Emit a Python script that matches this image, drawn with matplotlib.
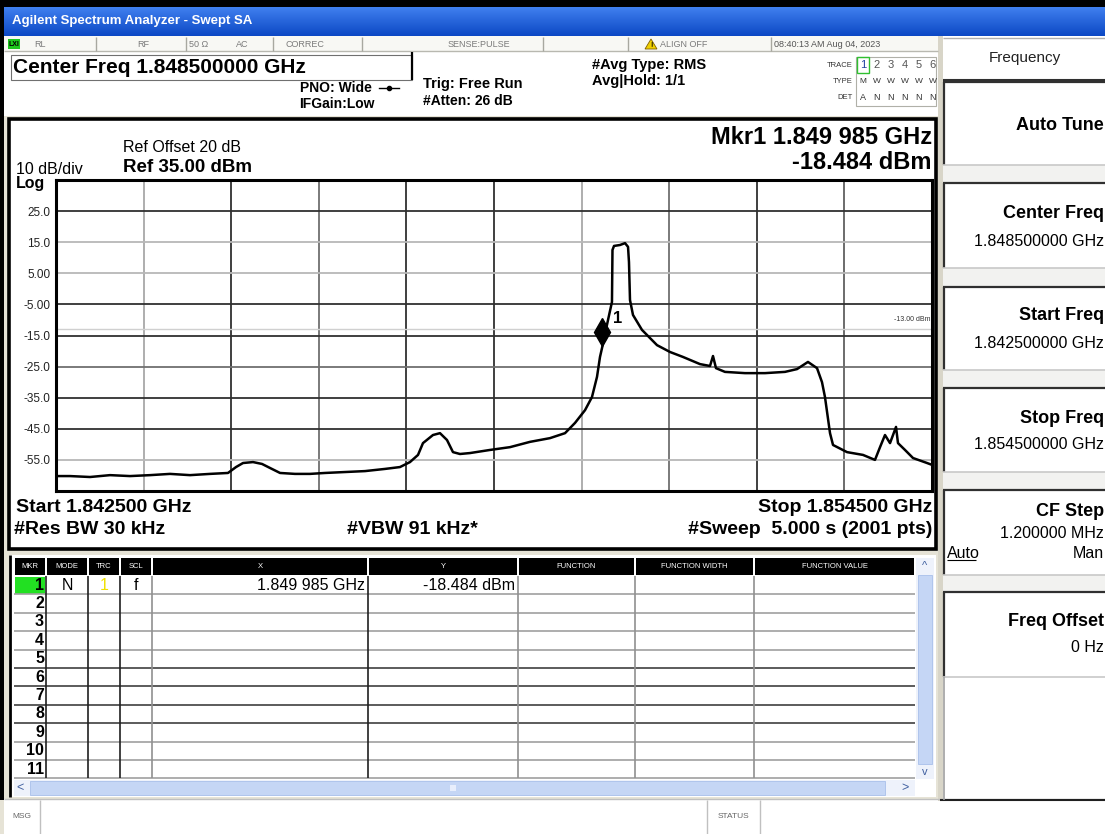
import matplotlib
matplotlib.use("Agg")
import matplotlib.pyplot as plt
from matplotlib.patches import Rectangle, Polygon
from matplotlib.transforms import offset_copy

plt.rcParams['font.family'] = ['Liberation Sans', 'DejaVu Sans']

# sweep setup
start_ghz = 1.8425
stop_ghz = 1.8545
ref_dbm = 35.0
bottom_dbm = -65.0
display_line_dbm = -13.0

# trace 1
freq_ghz = [1.842500, 1.842692, 1.842966, 1.843240, 1.843514, 1.843788, 1.844062, 1.844336,
            1.844610, 1.844856, 1.844966, 1.845062, 1.845199, 1.845322, 1.845432, 1.845569,
            1.845774, 1.845979, 1.846185, 1.846459, 1.846733, 1.847007, 1.847212, 1.847349,
            1.847459, 1.847527, 1.847664, 1.847760, 1.847856, 1.847938, 1.848034, 1.848171,
            1.848445, 1.848719, 1.848993, 1.849267, 1.849473, 1.849610, 1.849747, 1.849842,
            1.849911, 1.849952, 1.849985, 1.850062, 1.850116, 1.850123, 1.850144, 1.850226,
            1.850295, 1.850336, 1.850349, 1.850363, 1.850404, 1.850527, 1.850733, 1.850911,
            1.851089, 1.851322, 1.851459, 1.851500, 1.851541, 1.851664, 1.851938, 1.852212,
            1.852486, 1.852651, 1.852801, 1.852925, 1.852993, 1.853034, 1.853103, 1.853144,
            1.853336, 1.853555, 1.853719, 1.853788, 1.853856, 1.853925, 1.854007, 1.854034,
            1.854130, 1.854240, 1.854432, 1.854500]
level_dbm = [-60.2, -60.2, -60.5, -59.9, -60.2, -59.9, -59.5, -59.9,
             -59.5, -59.2, -57.3, -56.0, -55.7, -56.3, -57.6, -59.2,
             -59.5, -59.5, -59.2, -58.9, -58.6, -57.9, -57.3, -55.7,
             -53.4, -49.6, -47.0, -46.4, -48.6, -52.5, -53.1, -52.8,
             -51.8, -50.9, -49.2, -48.0, -46.4, -43.1, -39.0, -34.8,
             -28.3, -21.9, -18.484, -10.0, -4.2, 12.5, 13.8, 14.1,
             14.7, 13.5, 8.6, -3.6, -8.4, -13.2, -18.1, -20.3,
             -21.9, -24.2, -24.8, -21.6, -25.5, -26.7, -27.1, -27.1,
             -26.7, -25.8, -23.5, -25.5, -30.0, -34.8, -46.4, -50.2,
             -52.5, -53.4, -55.0, -50.9, -47.0, -49.6, -44.4, -49.6,
             -51.8, -54.4, -56.0, -56.6]

marker_freq_ghz = 1.849985
marker_level_dbm = -18.484

y_ticks = [25, 15, 5, -5, -15, -25, -35, -45, -55]
y_labels = ["25.0", "15.0", "5.00", "-5.00", "-15.0", "-25.0", "-35.0", "-45.0", "-55.0"]

table_cols = ["MKR", "MODE", "TRC", "SCL", "X", "Y", "FUNCTION", "FUNCTION WIDTH", "FUNCTION VALUE"]
table_mkrs = [1, 2, 3, 4, 5, 6, 7, 8, 9, 10, 11]
mkr1_row = ["N", "1", "f", "1.849 985 GHz", "-18.484 dBm"]

status_items = ["RL", "RF", "50 Ω", "AC", "CORREC", "SENSE:PULSE", "ALIGN OFF", "08:40:13 AM Aug 04, 2023"]
softkeys = [("Auto Tune", ""), ("Center Freq", "1.848500000 GHz"), ("Start Freq", "1.842500000 GHz"),
            ("Stop Freq", "1.854500000 GHz"), ("CF Step", "1.200000 MHz"), ("Freq Offset", "0 Hz")]

W, H = 1105, 834
fig = plt.figure(figsize=(W / 100, H / 100), dpi=100)
bg = fig.add_axes([0, 0, 1, 1])
bg.set_xlim(0, W)
bg.set_ylim(H, 0)
bg.axis('off')


def box(x0, y0, x1, y1, fc='none', ec='none', lw=0, z=1):
    bg.add_patch(Rectangle((x0, y0), x1 - x0, y1 - y0, facecolor=fc, edgecolor=ec, linewidth=lw, zorder=z))


def hl(y, x0, x1, c, lw=1.0, z=2):
    bg.plot([x0, x1], [y, y], color=c, lw=lw, solid_capstyle='butt', zorder=z)


def vl(x, y0, y1, c, lw=1.0, z=2):
    bg.plot([x, x], [y0, y1], color=c, lw=lw, solid_capstyle='butt', zorder=z)


def txt(x, y, s, size, weight='normal', ha='left', color='black', z=3, **kw):
    bg.text(x, y, s, fontsize=size, fontweight=weight, ha=ha, va='center', color=color, zorder=z, **kw)


# window frame
box(0, 0, W, H, fc='#e6e3d6', z=0)
box(0, 0, W, 7, fc='black')
box(0, 0, 4, 800, fc='black')

# title bar
top = (0x3f / 255, 0x7f / 255, 0xee / 255)
bot = (0x0c / 255, 0x48 / 255, 0xc4 / 255)
n = 29
for i in range(n):
    f = i / (n - 1)
    c = tuple(top[k] + (bot[k] - top[k]) * f for k in range(3))
    box(4, 7 + i, W, 8 + i, fc=c)
txt(12, 21, "Agilent Spectrum Analyzer - Swept SA", 9.5, 'bold', color='white')

# status row
box(4, 36, 938, 51, fc='#f8f8f4')
hl(51, 4, 938, '#b8b8b0')
for x in [96, 186, 273, 362, 543, 628, 771]:
    vl(x, 37, 51, '#a8a8a0')
box(8, 39, 20, 49, fc='#1ec81e')
txt(14, 44.5, "LXI", 5, 'bold', ha='center')
status_x = [34, 137, 189, 236, 286, 448, 660, 774]
for s, x in zip(status_items, status_x):
    txt(x, 44.5, s, 6.5, color='#7a7a7a' if x < 770 else '#555555')
bg.add_patch(Polygon([[645, 49], [651, 39], [657, 49]], closed=True, facecolor='#f0d000', edgecolor='#806000', lw=0.6, zorder=3))
txt(651, 45.5, "!", 5, 'bold', ha='center')

# header
box(4, 51, 938, 116, fc='white')
box(11, 55, 412, 80, fc='white', ec='#707070', lw=0.8)
vl(412, 52, 80, 'black', 1.6)
txt(13, 67.5, "Center Freq 1.848500000 GHz", 15, 'bold')
txt(300, 88, "PNO: Wide", 10, 'bold')
bg.plot([379, 399], [88, 88], color='black', lw=1, zorder=3)
bg.plot([389], [88], marker='o', ms=3, color='black', zorder=3)
txt(299, 104, "IFGain:Low", 10, 'bold')
txt(423, 84, "Trig: Free Run", 10.5, 'bold')
txt(423, 101, "#Atten: 26 dB", 10, 'bold')
txt(592, 65, "#Avg Type: RMS", 10.5, 'bold')
txt(592, 81, "Avg|Hold: 1/1", 10.5, 'bold')
txt(853, 65, "TRACE", 5.5, ha='right', color='#333333')
txt(853, 81, "TYPE", 5.5, ha='right', color='#333333')
txt(853, 97, "DET", 5.5, ha='right', color='#333333')
box(856, 57, 936, 106, fc='white', ec='#b0b0a8', lw=0.8)
for i, d in enumerate("123456"):
    txt(863 + i * 14, 65, d, 8, color='#2040a0' if i == 0 else '#555555', ha='center')
box(857, 57, 869, 73, fc='none', ec='#30c030', lw=1)
for i, d in enumerate("MWWWWW"):
    txt(863 + i * 14, 81, d, 6, color='#333333', ha='center')
for i, d in enumerate("ANNNNN"):
    txt(863 + i * 14, 97, d, 6.5, color='#333333', ha='center')

# plot panel
box(9, 119, 936, 549, fc='white', ec='black', lw=2.6)
txt(123, 147, "Ref Offset 20 dB", 11.5)
txt(123, 167, "Ref 35.00 dBm", 13.5, 'bold')
txt(16, 169, "10 dB/div", 11.5)
txt(16, 183, "Log", 11.5, 'bold')
txt(932, 137, "Mkr1 1.849 985 GHz", 17, 'bold', ha='right')
txt(932, 162, "-18.484 dBm", 17, 'bold', ha='right')
txt(16, 507, "Start 1.842500 GHz", 14, 'bold')
txt(14, 530, "#Res BW 30 kHz", 14, 'bold')
txt(347, 530, "#VBW 91 kHz*", 14, 'bold')
txt(932, 507, "Stop 1.854500 GHz", 14, 'bold', ha='right')
txt(932, 530, "#Sweep  5.000 s (2001 pts)", 14, 'bold', ha='right')

# spectrum graticule
ax = fig.add_axes([56 / W, 1 - 491 / H, 876 / W, 311 / H])
ax.set_xlim(start_ghz, stop_ghz)
ax.set_ylim(bottom_dbm, ref_dbm)
ax.set_facecolor('white')
step = (stop_ghz - start_ghz) / 10
v_shades = ['#a8a8a8', '#303030', '#707070', '#303030', '#303030', '#a8a8a8', '#707070', '#303030', '#606060']
for k, c in enumerate(v_shades):
    ax.axvline(start_ghz + (k + 1) * step, color=c, lw=1.3, zorder=1)
h_shades = ['#303030', '#b8b8b8', '#b8b8b8', '#303030', '#303030', '#707070', '#303030', '#303030', '#b8b8b8']
for yv, c in zip(y_ticks, h_shades):
    ax.axhline(yv, color=c, lw=1.3, zorder=1)
ax.axhline(display_line_dbm, color='#d0d0d0', lw=1.0, zorder=1.5)
ax.text(stop_ghz - 0.00002, display_line_dbm + 3.2, "-13.00 dBm", fontsize=5, ha='right', va='center', color='#333333')
ax.plot(freq_ghz, level_dbm, color='black', lw=1.8, zorder=3)
mk_trans = offset_copy(ax.transData, fig=fig, x=0, y=10, units='points')
ax.plot([marker_freq_ghz], [marker_level_dbm], marker='d', ms=14, color='black', transform=mk_trans, zorder=4)
ax.annotate("1", (marker_freq_ghz, marker_level_dbm), xytext=(11, 20), textcoords='offset points',
            fontsize=12, fontweight='bold', ha='center', va='center', zorder=4)
ax.set_xticks([])
ax.set_yticks(y_ticks)
ax.set_yticklabels(y_labels)
ax.tick_params(axis='y', length=0, pad=4, labelsize=8.5, labelcolor='#222222')
for sp in ax.spines.values():
    sp.set_linewidth(2.2)
    sp.set_color('black')

# marker table
box(9, 555, 936, 797, fc='white')
vl(10, 555, 797, 'black', 2)
col_edges = [14, 46, 88, 120, 152, 368, 518, 635, 754, 915]
for i, name in enumerate(table_cols):
    x0, x1 = col_edges[i] + 1, col_edges[i + 1] - 1
    box(x0, 558, x1, 575, fc='black')
    txt((x0 + x1) / 2, 566.5, name, 5.5, color='white', ha='center')
row_h = 18.4
row_top = 576
for k in range(1, 12):
    y = row_top + k * row_h
    hl(y, 14, 915, '#404040' if 5 <= k <= 8 else '#a0a0a0', lw=1.2)
for i, x in enumerate(col_edges[1:-1]):
    c = '#202020' if x in (46, 88, 120, 368) else '#909090'
    vl(x, 576, 778, c, 1.2)
box(15, 577, 45, 594, fc='#22e022')
for k, m in enumerate(table_mkrs):
    yc = row_top + (k + 0.5) * row_h
    txt(44, yc, str(m), 11.5, 'bold', ha='right')
yc = row_top + 0.5 * row_h
txt(67, yc, mkr1_row[0], 11.5, ha='center')
txt(104, yc, mkr1_row[1], 11.5, ha='center', color='#f0e000')
txt(136, yc, mkr1_row[2], 11.5, ha='center')
txt(365, yc, mkr1_row[3], 11.5, ha='right')
txt(515, yc, mkr1_row[4], 11.5, ha='right')
# scroll bars
box(916, 558, 934, 779, fc='#eef2fb')
box(918, 575, 932, 764, fc='#c5d6f5', ec='#a9c0ea', lw=0.6)
txt(925, 566, "^", 8, color='#4060a0', ha='center')
txt(925, 772, "v", 8, color='#4060a0', ha='center')
box(14, 780, 915, 796, fc='#eef2fb')
box(30, 781, 885, 795, fc='#c5d6f5', ec='#a9c0ea', lw=0.6)
txt(20, 788, "<", 9, color='#4060a0', ha='center')
txt(905, 788, ">", 9, color='#4060a0', ha='center')
box(450, 785, 456, 791, fc='#e8eefc')

# bottom status bar
box(4, 799, W, H, fc='white')
hl(799, 4, W, '#c0c0c0')
vl(40, 800, H, '#c0c0c0')
vl(707, 800, H, '#c0c0c0')
vl(760, 800, H, '#c0c0c0')
txt(12, 816, "MSG", 6, color='#666666')
txt(733, 817, "STATUS", 6, color='#666666', ha='center')

# softkey panel
box(938, 36, 943, 801, fc='#d8d5c8')
box(943, 36, W, 800, fc='white')
hl(800, 940, W, '#202020', 1.5)
box(943, 38, W, 80, fc='white')
hl(38, 943, W, '#b0b0b0')
hl(80, 943, W, '#303030', 1.5)
txt(1025, 58, "Frequency", 11, ha='center', color='#222222')
key_spans = [(82, 165), (183, 268), (287, 370), (388, 472), (490, 575), (592, 677)]
title_dy = [43, 30, 28, 30, 21, 29]
value_dy = [0, 58, 56, 56, 43, 56]
for (y0, y1), (title, value), tdy, vdy in zip(key_spans, softkeys, title_dy, value_dy):
    box(943, y1, W, y1 + 18 if y1 < 677 else y1, fc='#f2f2f0')
    hl(y0, 943, W, '#303030', 1.6)
    vl(944, y0, y1, '#303030', 1.6)
    hl(y1, 943, W, '#c8c8c8', 1.2)
    txt(1104, y0 + tdy, title, 13, 'bold', ha='right')
    if value:
        txt(1104, y0 + vdy, value, 11.5, ha='right')
txt(947, 553, "Auto", 11.5)
hl(560, 947, 976, 'black', 0.8)
txt(1104, 553, "Man", 11.5, ha='right')
vl(944, 677, 800, '#a0a0a0', 1.2)

fig.savefig("out.png", dpi=100)
